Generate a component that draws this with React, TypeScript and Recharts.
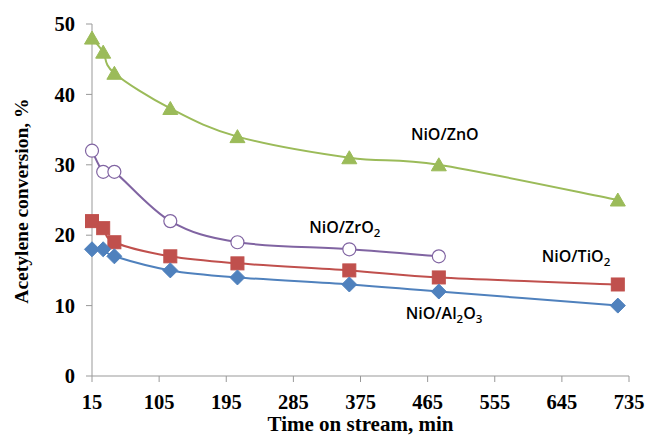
import React from 'react';
import { LineChart, Line, XAxis, YAxis, ReferenceDot, Label } from 'recharts';

const timeZnO = [15, 30, 45, 120, 210, 360, 480, 720];
const convZnO = [48, 46, 43, 38, 34, 31, 30, 25];
const timeZrO2 = [15, 30, 45, 120, 210, 360, 480];
const convZrO2 = [32, 29, 29, 22, 19, 18, 17];
const timeTiO2 = [15, 30, 45, 120, 210, 360, 480, 720];
const convTiO2 = [22, 21, 19, 17, 16, 15, 14, 13];
const timeAl2O3 = [15, 30, 45, 120, 210, 360, 480, 720];
const convAl2O3 = [18, 18, 17, 15, 14, 13, 12, 10];

const xTicks = [15, 105, 195, 285, 375, 465, 555, 645, 735];
const yTicks = [0, 10, 20, 30, 40, 50];

// series name annotations: [label parts, x (min), y (%)]
const seriesLabels = [
  { parts: [['NiO/ZnO', false]], x: 488, y: 34.4 },
  { parts: [['NiO/ZrO', false], ['2', true]], x: 354, y: 21.2 },
  { parts: [['NiO/TiO', false], ['2', true]], x: 664, y: 17.1 },
  { parts: [['NiO/Al', false], ['2', true], ['O', false], ['3', true]], x: 487, y: 8.9 },
];

const zip = (xs: number[], ys: number[]) => xs.map((x, i) => ({ t: x, v: ys[i] }));

const excelCurve = (context: any) => {
  let pts: number[][] = [];
  return {
    areaStart() {},
    areaEnd() {},
    lineStart() { pts = []; },
    point(x: number, y: number) { pts.push([+x, +y]); },
    lineEnd() {
      if (!pts.length) return;
      context.moveTo(pts[0][0], pts[0][1]);
      const k = 1 / 6;
      for (let i = 0; i < pts.length - 1; i++) {
        const p0 = pts[i - 1] || pts[i];
        const p1 = pts[i];
        const p2 = pts[i + 1];
        const p3 = pts[i + 2] || pts[i + 1];
        context.bezierCurveTo(
          p1[0] + (p2[0] - p0[0]) * k, p1[1] + (p2[1] - p0[1]) * k,
          p2[0] - (p3[0] - p1[0]) * k, p2[1] - (p3[1] - p1[1]) * k,
          p2[0], p2[1]
        );
      }
    },
  };
};

const GREEN = '#9BBB59';
const PURPLE = '#8064A2';
const RED = '#C0504D';
const BLUE = '#4F81BD';

const triangleDot = (p: any) => {
  const { cx, cy, key } = p;
  return <path key={key} d={`M${cx},${cy - 7} L${cx + 7.5},${cy + 6} L${cx - 7.5},${cy + 6} Z`} fill={GREEN} stroke={GREEN} />;
};
const circleDot = (p: any) => {
  const { cx, cy, key } = p;
  return <circle key={key} cx={cx} cy={cy} r={6.5} fill="#fff" stroke={PURPLE} strokeWidth={1.2} />;
};
const squareDot = (p: any) => {
  const { cx, cy, key } = p;
  return <rect key={key} x={cx - 6.5} y={cy - 6.5} width={13} height={13} fill={RED} stroke={RED} />;
};
const diamondDot = (p: any) => {
  const { cx, cy, key } = p;
  return <path key={key} d={`M${cx},${cy - 7.5} L${cx + 7.5},${cy} L${cx},${cy + 7.5} L${cx - 7.5},${cy} Z`} fill={BLUE} stroke={BLUE} />;
};

const tickStyle = { fontFamily: '"Liberation Serif", "Times New Roman", serif', fontWeight: 700, fontSize: 20.5, fill: '#000' };

const makeSeriesLabel = (parts: any[]) => (props: any) => {
  const vb = props.viewBox || {};
  const cx = vb.x + (vb.width || 0) / 2;
  const cy = vb.y + (vb.height || 0) / 2;
  const nodes: any[] = [];
  let sub = false;
  parts.forEach(([txt, isSub]: any, i: number) => {
    let dy = 0;
    if (isSub && !sub) dy = 4;
    if (!isSub && sub) dy = -4;
    sub = isSub;
    nodes.push(
      <tspan key={i} dy={dy} fontSize={isSub ? 11.5 : 16}>{txt}</tspan>
    );
  });
  return (
    <text x={cx} y={cy + 6} textAnchor="middle" fontFamily='"Open Sans", sans-serif' fontWeight={600} fontSize={16} fill="#000">
      {nodes}
    </text>
  );
};

const yTitle = (props: any) => {
  const vb = props.viewBox || { x: 0, y: 24, height: 352 };
  const x = 21;
  const y = vb.y + vb.height / 2 + 1;
  return (
    <text x={x} y={y} transform={`rotate(-90 ${x} ${y})`} textAnchor="middle" dominantBaseline="central"
      fontFamily='"Liberation Serif", "Times New Roman", serif' fontWeight={700} fontSize={19.5} fill="#000">
      Acetylene conversion, %
    </text>
  );
};

export default function App() {
  return (
    <div style={{ position: 'absolute', left: 0, top: 0, width: 649, height: 436, background: '#fff' }}>
      <LineChart width={649} height={436} margin={{ top: 24, right: 20, left: 0, bottom: 0 }}>
        <XAxis
          type="number"
          dataKey="t"
          domain={[15, 735]}
          ticks={xTicks}
          height={60}
          stroke="#999"
          tickSize={6}
          tickMargin={12}
          tick={tickStyle}
          tickLine={{ stroke: '#999' }}
        >
          <Label value="Time on stream, min" position="insideBottom" offset={5}
            style={{ fontFamily: '"Liberation Serif", "Times New Roman", serif', fontWeight: 700, fontSize: 21, fill: '#000' }} />
        </XAxis>
        <YAxis
          type="number"
          domain={[0, 50]}
          ticks={yTicks}
          width={92}
          stroke="#999"
          tickSize={6}
          tickMargin={11}
          tick={tickStyle}
          tickLine={{ stroke: '#999' }}
        >
          <Label content={yTitle} />
        </YAxis>
        <Line data={zip(timeZnO, convZnO)} dataKey="v" type={excelCurve as any} stroke={GREEN} strokeWidth={2} dot={triangleDot} isAnimationActive={false} />
        <Line data={zip(timeZrO2, convZrO2)} dataKey="v" type={excelCurve as any} stroke={PURPLE} strokeWidth={2} dot={circleDot} isAnimationActive={false} />
        <Line data={zip(timeTiO2, convTiO2)} dataKey="v" type={excelCurve as any} stroke={RED} strokeWidth={2} dot={squareDot} isAnimationActive={false} />
        <Line data={zip(timeAl2O3, convAl2O3)} dataKey="v" type={excelCurve as any} stroke={BLUE} strokeWidth={2} dot={diamondDot} isAnimationActive={false} />
        {seriesLabels.map((l, i) => (
          <ReferenceDot key={i} x={l.x} y={l.y} r={1} fill="none" stroke="none" label={makeSeriesLabel(l.parts)} />
        ))}
      </LineChart>
    </div>
  );
}
